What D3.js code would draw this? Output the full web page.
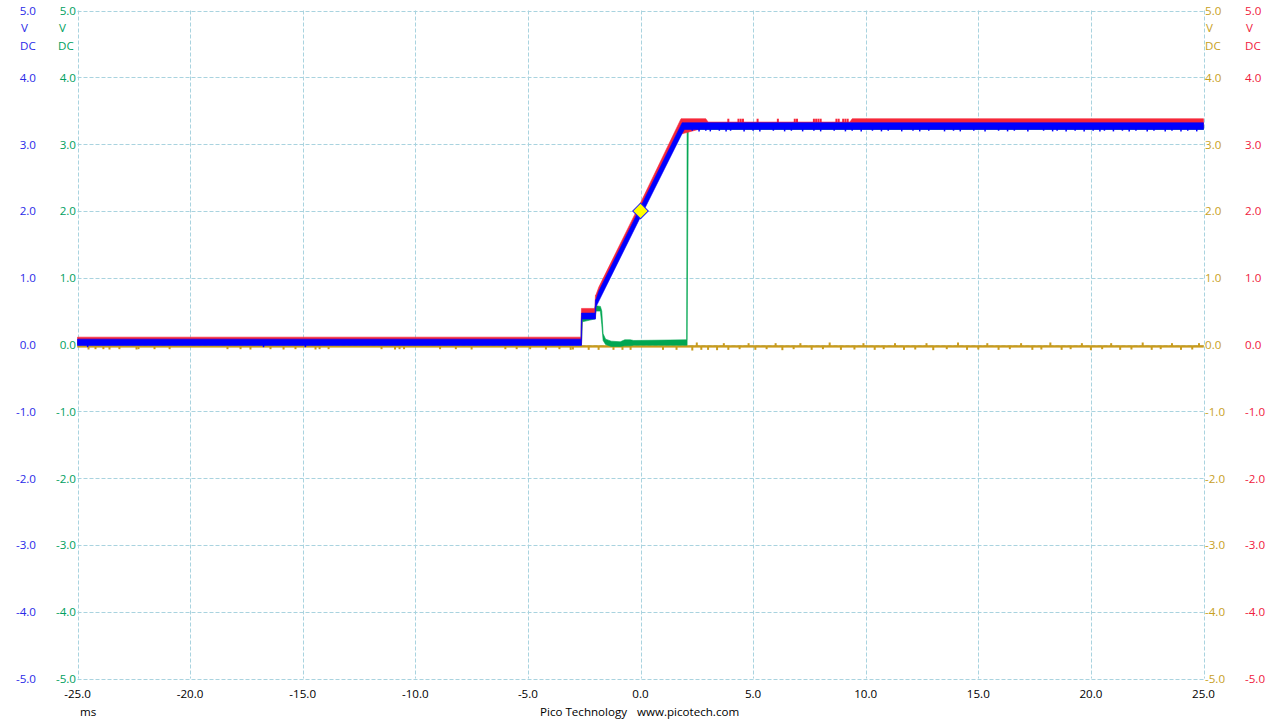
<!DOCTYPE html>
<html>
<head>
<meta charset="utf-8">
<script src="https://cdn.jsdelivr.net/npm/d3@7.9.0/dist/d3.min.js"></script>
<style>
  body { margin: 0; background: #fff; }
  svg { display: block; }
  text { font-family: "Open Sans", sans-serif; font-size: 11.6px; }
</style>
</head>
<body>
<svg width="1280" height="720"></svg>
<script>
// time axis (ms) and voltage axis ticks
const xTicks = [-25, -20, -15, -10, -5, 0, 5, 10, 15, 20, 25];
const yTicks = [-5, -4, -3, -2, -1, 0, 1, 2, 3, 4, 5];

// channel envelopes: [ms, low V, high V]
const redBand = [
  [-25, 0.0, 0.11], [-2.64, 0.0, 0.11], [-2.62, 0.0, 0.54], [-2.60, 0.40, 0.54],
  [-2.02, 0.40, 0.54], [-2.00, 0.40, 0.74], [-1.98, 0.60, 0.74], [-1.85, 0.68, 0.86],
  [0, 1.95, 2.12], [1.80, 3.15, 3.38], [2.90, 3.25, 3.38], [3.00, 3.25, 3.33],
  [9.30, 3.25, 3.33], [9.40, 3.25, 3.38], [25, 3.25, 3.38]
];
const blueBand = [
  [-25, -0.015, 0.08], [-2.64, -0.015, 0.08], [-2.62, -0.015, 0.47], [-2.60, 0.38, 0.47],
  [-2.02, 0.38, 0.47], [-2.00, 0.38, 0.67], [-1.98, 0.56, 0.67], [-1.85, 0.65, 0.80],
  [0, 1.91, 2.06], [1.85, 3.16, 3.32], [1.95, 3.22, 3.32], [25, 3.22, 3.32]
];
const greenBand = [
  [-25, 0.0, 0.04], [-2.64, 0.0, 0.04], [-2.62, 0.0, 0.42], [-2.58, 0.34, 0.42],
  [-2.05, 0.38, 0.45], [-2.02, 0.38, 0.57], [-1.98, 0.50, 0.58], [-1.78, 0.50, 0.57],
  [-1.72, 0.30, 0.50], [-1.66, 0.06, 0.16], [-1.55, 0.0, 0.08], [-1.30, -0.03, 0.05],
  [-0.90, -0.03, 0.04], [-0.70, -0.02, 0.07], [-0.45, -0.02, 0.07], [-0.30, -0.01, 0.06],
  [2.05, -0.01, 0.07], [2.07, -0.01, 3.27], [2.12, 3.22, 3.28], [25, 3.22, 3.28]
];
const goldBand = [[-25, -0.042, -0.015], [25, -0.042, -0.015]];

// noise spikes: [ms, V]
const goldSpikes = [
  [-24.51, -0.075], [-24.2, -0.07], [-23.85, -0.07], [-23.58, -0.075], [-23.14, -0.07],
  [-22.38, -0.075], [-22.29, -0.07], [-21.58, -0.07], [-20.91, -0.07], [-18.34, -0.07],
  [-17.76, -0.07], [-17.32, -0.075], [-16.43, -0.07], [-15.85, -0.075], [-15.32, -0.07],
  [-14.43, -0.075], [-14.25, -0.07], [-13.85, -0.07], [-11.5, -0.07], [-10.9, -0.075],
  [-10.7, -0.07], [-10.5, -0.07], [-8.9, -0.07], [-8.2, -0.07], [-7.5, -0.075],
  [-6.0, -0.07], [-5.5, -0.07], [-4.9, -0.07], [-4.2, -0.075], [-3.6, -0.07],
  [-3.1, -0.08], [-3.0, -0.075], [-2.3, -0.08], [-1.86, -0.08], [-1.2, -0.08],
  [-0.8, -0.08], [-0.44, -0.08], [1.0, -0.08], [1.6, -0.08], [2.3, -0.09],
  [2.5, 0.03], [2.7, -0.08], [3.0, -0.08], [3.4, -0.085], [3.7, 0.02], [3.9, -0.08],
  [4.4, -0.07], [4.8, 0.02], [5.1, -0.08], [5.6, -0.07], [6.0, 0.02], [6.3, -0.085],
  [6.8, -0.07], [7.1, 0.02], [7.6, -0.08], [8.1, -0.07], [8.4, 0.03], [8.9, -0.08],
  [9.5, -0.075], [9.9, 0.02], [10.4, -0.08], [10.8, -0.07], [11.3, 0.02], [11.7, -0.08],
  [12.2, -0.075], [12.7, 0.02], [13.0, -0.085], [13.6, -0.07], [14.1, 0.03], [14.5, -0.08],
  [15.0, -0.075], [15.4, 0.02], [15.9, -0.08], [16.4, -0.07], [16.9, 0.02], [17.4, -0.08],
  [17.8, -0.075], [18.2, 0.03], [18.7, -0.08], [19.1, -0.07], [19.6, 0.02], [20.0, -0.085],
  [20.5, -0.07], [20.9, 0.02], [21.3, -0.08], [21.8, -0.075], [22.3, 0.03], [22.7, -0.08],
  [23.1, -0.07], [23.6, 0.02], [24.0, -0.08], [24.5, -0.075], [24.8, 0.02]
];
const blueSpikes = [
  [-24.55, -0.04], [-16.74, -0.04], [-14.88, -0.04],
  [2.3, 3.2], [2.6, 3.19], [2.9, 3.2], [3.1, 3.19], [3.5, 3.2], [3.8, 3.19], [4.0, 3.2],
  [4.6, 3.19], [5.0, 3.2], [5.3, 3.19], [5.9, 3.2], [6.4, 3.19], [6.7, 3.2], [7.2, 3.19],
  [7.7, 3.2], [8.0, 3.19], [8.6, 3.2], [9.1, 3.19], [9.4, 3.2], [9.8, 3.19], [10.3, 3.2],
  [10.7, 3.19], [11.0, 3.2], [11.6, 3.19], [12.1, 3.2], [12.4, 3.19], [12.8, 3.2],
  [13.5, 3.19], [13.9, 3.2], [14.2, 3.19], [14.8, 3.2], [15.3, 3.19], [15.9, 3.2],
  [16.3, 3.19], [16.6, 3.2], [17.2, 3.19], [17.9, 3.2], [18.3, 3.19], [18.5, 3.2],
  [18.9, 3.19], [19.3, 3.2], [19.7, 3.19], [20.1, 3.2], [20.4, 3.19], [20.6, 3.2],
  [21.0, 3.19], [21.4, 3.2], [21.7, 3.19], [22.0, 3.2], [22.5, 3.19], [22.8, 3.2],
  [23.3, 3.19], [23.6, 3.2], [24.0, 3.19], [24.3, 3.2], [24.7, 3.19]
];
const redSpikes = [
  [3.9, 3.38], [4.35, 3.38], [4.45, 3.38], [4.55, 3.38], [5.2, 3.38], [6.1, 3.38],
  [6.85, 3.38], [6.95, 3.38], [7.7, 3.38], [7.8, 3.38], [7.9, 3.38], [8.0, 3.38],
  [8.7, 3.38], [8.8, 3.38], [9.0, 3.38], [9.1, 3.38], [9.2, 3.38]
];
const triggerPoint = [0, 2.0];

const colors = {
  red: "#f5283a", blue: "#0000ff", green: "#00a651", gold: "#c99c1e",
  redText: "#f0203c", blueText: "#2a2ae8", greenText: "#00a060", goldText: "#c8a01e",
  grid: "#a9d3df"
};

const svg = d3.select("svg");
const x = d3.scaleLinear().domain([-25, 25]).range([77.5, 1203.5]);
const y = d3.scaleLinear().domain([-5, 5]).range([678.5, 10.5]);
const fmt = d3.formatLocale({decimal: ".", thousands: ",", grouping: [3], currency: ["", ""], minus: "-"}).format(".1f");

// grid
svg.append("g").selectAll("line").data(xTicks).join("line")
  .attr("x1", d => Math.round(x(d)) + 0.5).attr("x2", d => Math.round(x(d)) + 0.5)
  .attr("y1", y(5)).attr("y2", y(-5))
  .attr("stroke", colors.grid).attr("stroke-dasharray", "4,2");
svg.append("g").selectAll("line").data(yTicks).join("line")
  .attr("y1", d => Math.round(y(d)) + 0.5).attr("y2", d => Math.round(y(d)) + 0.5)
  .attr("x1", x(-25)).attr("x2", x(25))
  .attr("stroke", colors.grid).attr("stroke-dasharray", "4,2");

// y labels, four channel columns
const cols = [
  {c: colors.blueText, x: 36, anchor: "end", vx: 21, dcx: 20},
  {c: colors.greenText, x: 76, anchor: "end", vx: 59, dcx: 58},
  {c: colors.goldText, x: 1205, anchor: "start", vx: 1206, dcx: 1205},
  {c: colors.redText, x: 1245, anchor: "start", vx: 1246, dcx: 1245}
];
cols.forEach(col => {
  const g = svg.append("g").attr("fill", col.c);
  g.selectAll("text").data(yTicks).join("text")
    .attr("x", col.x).attr("y", d => y(d) + 0.5).attr("dy", "0.35em")
    .attr("text-anchor", col.anchor).text(d => fmt(d));
  g.append("text").attr("x", col.vx).attr("y", 28).attr("dy", "0.35em").text("V");
  g.append("text").attr("x", col.dcx).attr("y", 46).attr("dy", "0.35em").text("DC");
});

// x labels
svg.append("g").selectAll("text").data(xTicks).join("text")
  .attr("x", d => x(d)).attr("y", 694).attr("dy", "0.35em")
  .attr("text-anchor", "middle").attr("fill", "#000").text(d => fmt(d));
svg.append("text").attr("x", 80).attr("y", 716).attr("fill", "#000").text("ms");
svg.append("text").attr("x", 540).attr("y", 716).attr("fill", "#000").text("Pico Technology");
svg.append("text").attr("x", 637).attr("y", 716).attr("fill", "#000").text("www.picotech.com");

// traces
const area = d3.area().x(d => x(d[0])).y0(d => y(d[1])).y1(d => y(d[2]));
function band(data, color) {
  svg.append("path").datum(data).attr("d", area).attr("fill", color)
    .attr("stroke", color).attr("stroke-width", 0.6);
}
function spikes(data, base, color, w) {
  svg.append("g").selectAll("line").data(data).join("line")
    .attr("x1", d => x(d[0])).attr("x2", d => x(d[0]))
    .attr("y1", d => y(base(d))).attr("y2", d => y(d[1]))
    .attr("stroke", color).attr("stroke-width", w);
}

band(goldBand, colors.gold);
spikes(goldSpikes, () => -0.03, colors.gold, 2);
band(greenBand, colors.green);
band(redBand, colors.red);
spikes(redSpikes, () => 3.33, colors.red, 2);
band(blueBand, colors.blue);
spikes(blueSpikes, d => (d[0] < 0 ? 0.03 : 3.25), colors.blue, 1.5);

// trigger marker
svg.append("rect")
  .attr("x", -5.5).attr("y", -5.5).attr("width", 11).attr("height", 11)
  .attr("transform", `translate(${x(triggerPoint[0])},${y(triggerPoint[1])}) rotate(45)`)
  .attr("fill", "#ffff00").attr("stroke", "#1a1aff").attr("stroke-width", 1);
</script>
</body>
</html>
